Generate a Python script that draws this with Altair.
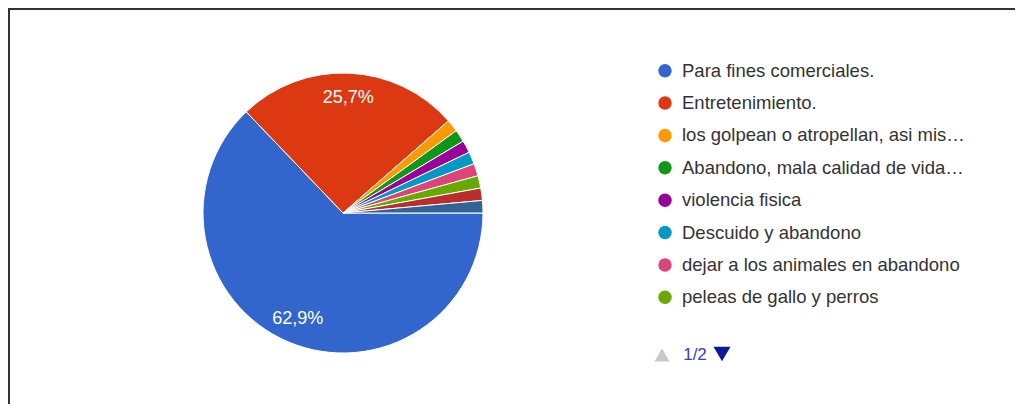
import math
import altair as alt
import pandas as pd

# ---- data ----
categories = [
    "Para fines comerciales.",
    "Entretenimiento.",
    "los golpean o atropellan, asi mis…",
    "Abandono, mala calidad de vida…",
    "violencia fisica",
    "Descuido y abandono",
    "dejar a los animales en abandono",
    "peleas de gallo y perros",
    "Otra respuesta (pág. 2) 1",
    "Otra respuesta (pág. 2) 2",
]
counts = [44, 18, 1, 1, 1, 1, 1, 1, 1, 1]
pct_labels = ["62,9%", "25,7%", "", "", "", "", "", "", "", ""]
colors = ["#3366cc", "#dc3912", "#ff9900", "#109618", "#990099",
          "#0099c6", "#dd4477", "#66aa00", "#b82e2e", "#316395"]
legend_page_size = 8
pager_text = ["1/2"]

df = pd.DataFrame({
    "idx": list(range(len(categories))),
    "category": categories,
    "count": counts,
    "label": pct_labels,
})
df_leg = df.head(legend_page_size)
df_pager = pd.DataFrame({"t": pager_text})

FONT = "Liberation Sans"
W, H = 1007, 396
CX, CY = 335, 205

theta_scale = alt.Scale(range=[math.pi / 2, math.pi / 2 + 2 * math.pi])
color_scale = alt.Scale(domain=categories, range=colors)
y_leg_scale = alt.Scale(type="point", domain=categories[:legend_page_size],
                        range=[62.7, 289.3], padding=0)

base = alt.Chart(df)

pie = base.mark_arc(outerRadius=140, stroke="white", strokeWidth=1).encode(
    theta=alt.Theta("count:Q", stack=True, scale=theta_scale),
    color=alt.Color("category:N", scale=color_scale, legend=None),
    order=alt.Order("idx:Q"),
    x=alt.value(CX),
    y=alt.value(CY),
)

pie_labels = base.mark_text(radius=115, fontSize=18, font=FONT, color="white",
                            align="center", baseline="middle").encode(
    theta=alt.Theta("count:Q", stack=True, scale=theta_scale),
    order=alt.Order("idx:Q"),
    text="label:N",
    x=alt.value(CX),
    y=alt.value(CY),
)

leg_pts = alt.Chart(df_leg).mark_circle(size=180, opacity=1).encode(
    x=alt.value(657),
    y=alt.Y("category:N", scale=y_leg_scale, axis=None),
    color=alt.Color("category:N", scale=color_scale, legend=None),
)

leg_txt = alt.Chart(df_leg).mark_text(align="left", baseline="middle", fontSize=18.5,
                                      font=FONT, color="#333333").encode(
    x=alt.value(674),
    y=alt.Y("category:N", scale=y_leg_scale, axis=None),
    text="category:N",
)

pager_up = alt.Chart(df_pager).mark_point(shape="triangle-up", filled=True, opacity=1,
                                          color="#c8c8c8", size=230).encode(
    x=alt.value(654), y=alt.value(347))
pager_txt = alt.Chart(df_pager).mark_text(align="center", baseline="middle", fontSize=17,
                                          font=FONT, color="#3340c0").encode(
    x=alt.value(687), y=alt.value(347), text="t:N")
pager_down = alt.Chart(df_pager).mark_point(shape="triangle-down", filled=True, opacity=1,
                                            color="#0a1a9a", size=290).encode(
    x=alt.value(714), y=alt.value(346))

frame_top = alt.Chart(df_pager).mark_rule(color="#333333", strokeWidth=2).encode(
    x=alt.value(0), x2=alt.value(W), y=alt.value(1))
frame_left = alt.Chart(df_pager).mark_rule(color="#333333", strokeWidth=2).encode(
    x=alt.value(1), y=alt.value(0), y2=alt.value(H))

chart = alt.layer(
    frame_top, frame_left, pie, pie_labels, leg_pts, leg_txt,
    pager_up, pager_txt, pager_down,
).properties(
    width=W, height=H, padding=0,
    autosize=alt.AutoSizeParams(type="none"),
    background="white",
).configure_view(stroke=None)

chart.save("out.html", embed_options={"renderer": "svg", "actions": False})
